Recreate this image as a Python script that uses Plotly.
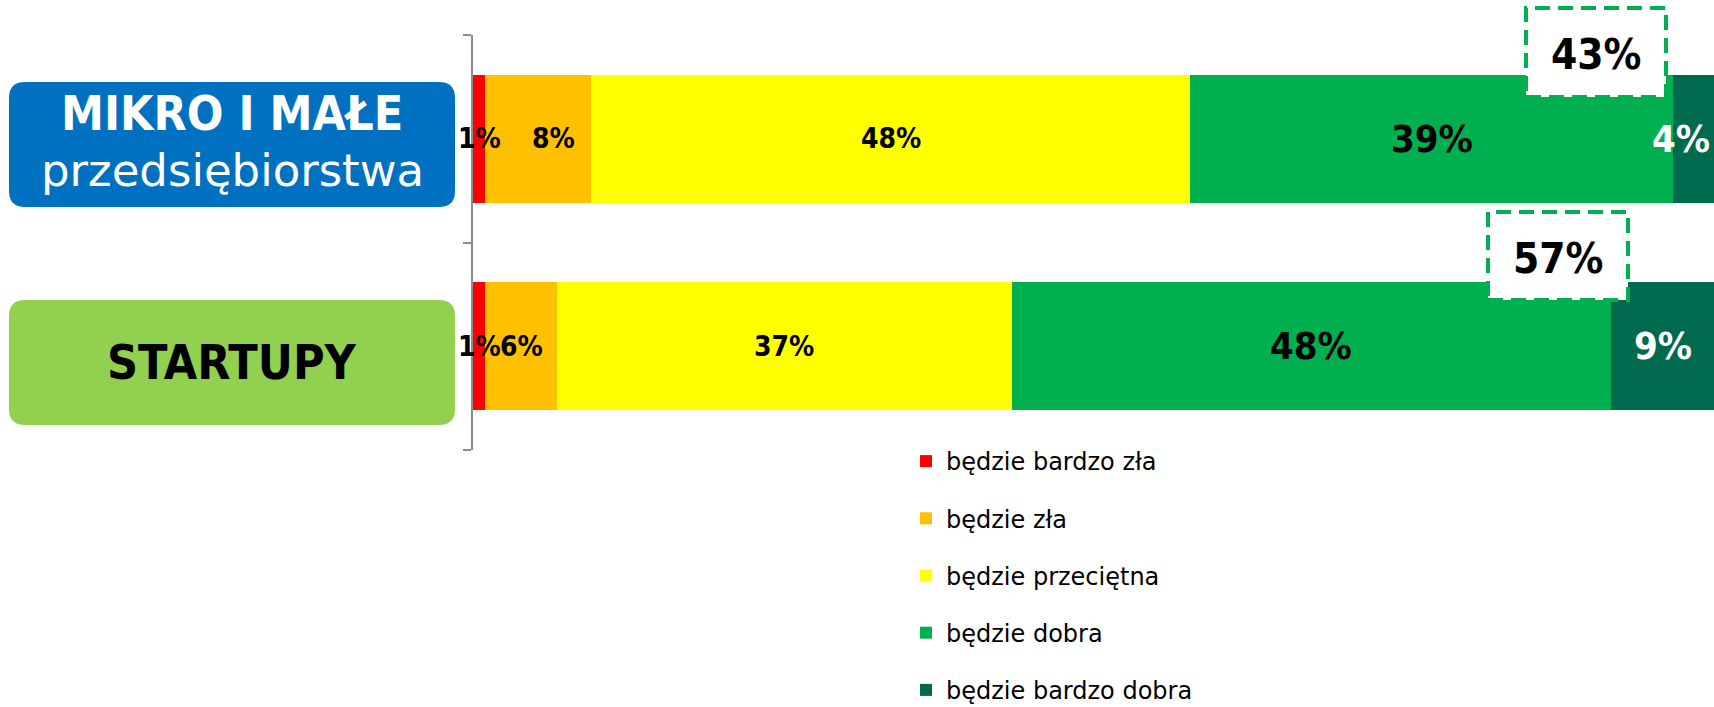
import plotly.graph_objects as go

# ---- data ----
categories = ["MIKRO I MAŁE przedsiębiorstwa", "STARTUPY"]
series_names = ["będzie bardzo zła", "będzie zła", "będzie przeciętna", "będzie dobra", "będzie bardzo dobra"]
bardzo_zla = [1.0, 1.0]
zla = [8.5, 5.8]
przecietna = [48.3, 36.6]
dobra = [38.9, 48.3]
bardzo_dobra = [3.3, 8.3]
label_bardzo_zla = ["1%", "1%"]
label_zla = ["8%", "6%"]
label_przecietna = ["48%", "37%"]
label_dobra = ["39%", "48%"]
label_bardzo_dobra = ["4%", "9%"]
top_two_labels = ["43%", "57%"]

series_values = [bardzo_zla, zla, przecietna, dobra, bardzo_dobra]
series_labels = [label_bardzo_zla, label_zla, label_przecietna, label_dobra, label_bardzo_dobra]
colors = ["#FF0000", "#FFC000", "#FFFF00", "#00B050", "#006A4E"]
label_colors = ["black", "black", "black", "black", "white"]
label_sizes = [[28, 28], [28, 28], [28, 28], [38, 38], [38, 38]]
label_xshift = [[0, 0], [15, 0], [0, 0], [0, 0], [-13, 0]]

ypos = [1, 0]
BOLD = "DejaVu Sans Condensed, DejaVu Sans, sans-serif"
REG = "DejaVu Sans, sans-serif"

fig = go.Figure()
for name, vals, col in zip(series_names, series_values, colors):
    fig.add_trace(go.Bar(
        x=vals, y=ypos, orientation="h", name=name,
        marker=dict(color=col, line=dict(width=0)),
        width=0.615, legendgroup=name, hoverinfo="skip",
    ))

annotations = []
for j in range(len(categories)):
    cum = 0.0
    for i, vals in enumerate(series_values):
        v = vals[j]
        annotations.append(dict(
            x=cum + v / 2, y=ypos[j], xref="x", yref="y",
            xanchor="center", yanchor="middle",
            text="<b>" + series_labels[i][j] + "</b>", showarrow=False,
            xshift=label_xshift[i][j],
            font=dict(family=BOLD, size=label_sizes[i][j], color=label_colors[i]),
        ))
        cum += v

def rounded_rect(x0, y0, x1, y1, rx, ry):
    return (f"M{x0+rx},{y0} L{x1-rx},{y0} Q{x1},{y0} {x1},{y0+ry} "
            f"L{x1},{y1-ry} Q{x1},{y1} {x1-rx},{y1} L{x0+rx},{y1} "
            f"Q{x0},{y1} {x0},{y1-ry} L{x0},{y0+ry} Q{x0},{y0} {x0+rx},{y0} Z")

W, H, L, T = 1241.0, 415.0, 473.0, 35.0
def px(xp):
    return (xp - L) / W
def py(yp):
    return (T + H - yp) / H

shapes = []
shapes.append(dict(type="path", xref="paper", yref="paper",
                   path=rounded_rect(px(9), py(207), px(455), py(82), 16 / W, 16 / H),
                   fillcolor="#0070C0", line=dict(width=0), layer="below"))
shapes.append(dict(type="path", xref="paper", yref="paper",
                   path=rounded_rect(px(9), py(425), px(455), py(300), 16 / W, 16 / H),
                   fillcolor="#92D050", line=dict(width=0), layer="below"))

def paper_text(x, y, text, family, size, color):
    return dict(x=px(x), y=py(y), xref="paper", yref="paper", showarrow=False,
                xanchor="center", yanchor="middle", text=text,
                font=dict(family=family, size=size, color=color))

annotations.append(paper_text(232, 113, "<b>MIKRO I MAŁE</b>", BOLD, 48, "white"))
annotations.append(paper_text(232, 170, "przedsiębiorstwa", REG, 45, "white"))
annotations.append(paper_text(232, 362, "<b>STARTUPY</b>", BOLD, 48, "black"))

boxes = [(1526, 8, 1666, 97), (1488, 212, 1628, 300)]
for (bx0, by0, bx1, by1), lab in zip(boxes, top_two_labels):
    shapes.append(dict(type="rect", xref="paper", yref="paper",
                       x0=px(bx0), x1=px(bx1), y0=py(by1), y1=py(by0),
                       fillcolor="white", line=dict(color="#00B050", width=4, dash="15px,8px"),
                       layer="above"))
    annotations.append(paper_text((bx0 + bx1) / 2, (by0 + by1) / 2 + 2, "<b>" + lab + "</b>",
                                  BOLD, 42, "black"))

fig.update_layout(
    width=1714, height=707,
    margin=dict(l=473, r=0, t=35, b=257, pad=0, autoexpand=False),
    paper_bgcolor="white", plot_bgcolor="white",
    barmode="stack", bargap=0,
    showlegend=True,
    legend=dict(x=px(906), y=py(439), xanchor="left", yanchor="top",
                traceorder="grouped", tracegroupgap=23,
                font=dict(family=REG, size=24, color="black"),
                bgcolor="rgba(0,0,0,0)"),
    xaxis=dict(range=[0, 100], visible=False, fixedrange=True),
    yaxis=dict(range=[-0.5, 1.5], tickvals=[-0.5, 0.5, 1.5], ticks="outside", ticklen=8,
               tickcolor="#8c8c8c", tickwidth=2, showticklabels=False,
               showline=True, linecolor="#8c8c8c", linewidth=2,
               showgrid=False, zeroline=False, fixedrange=True),
    shapes=shapes, annotations=annotations,
)

fig.write_html("out.html", config=dict(displayModeBar=False),
               post_script="document.body.style.margin='0px';document.body.style.overflow='hidden';")
